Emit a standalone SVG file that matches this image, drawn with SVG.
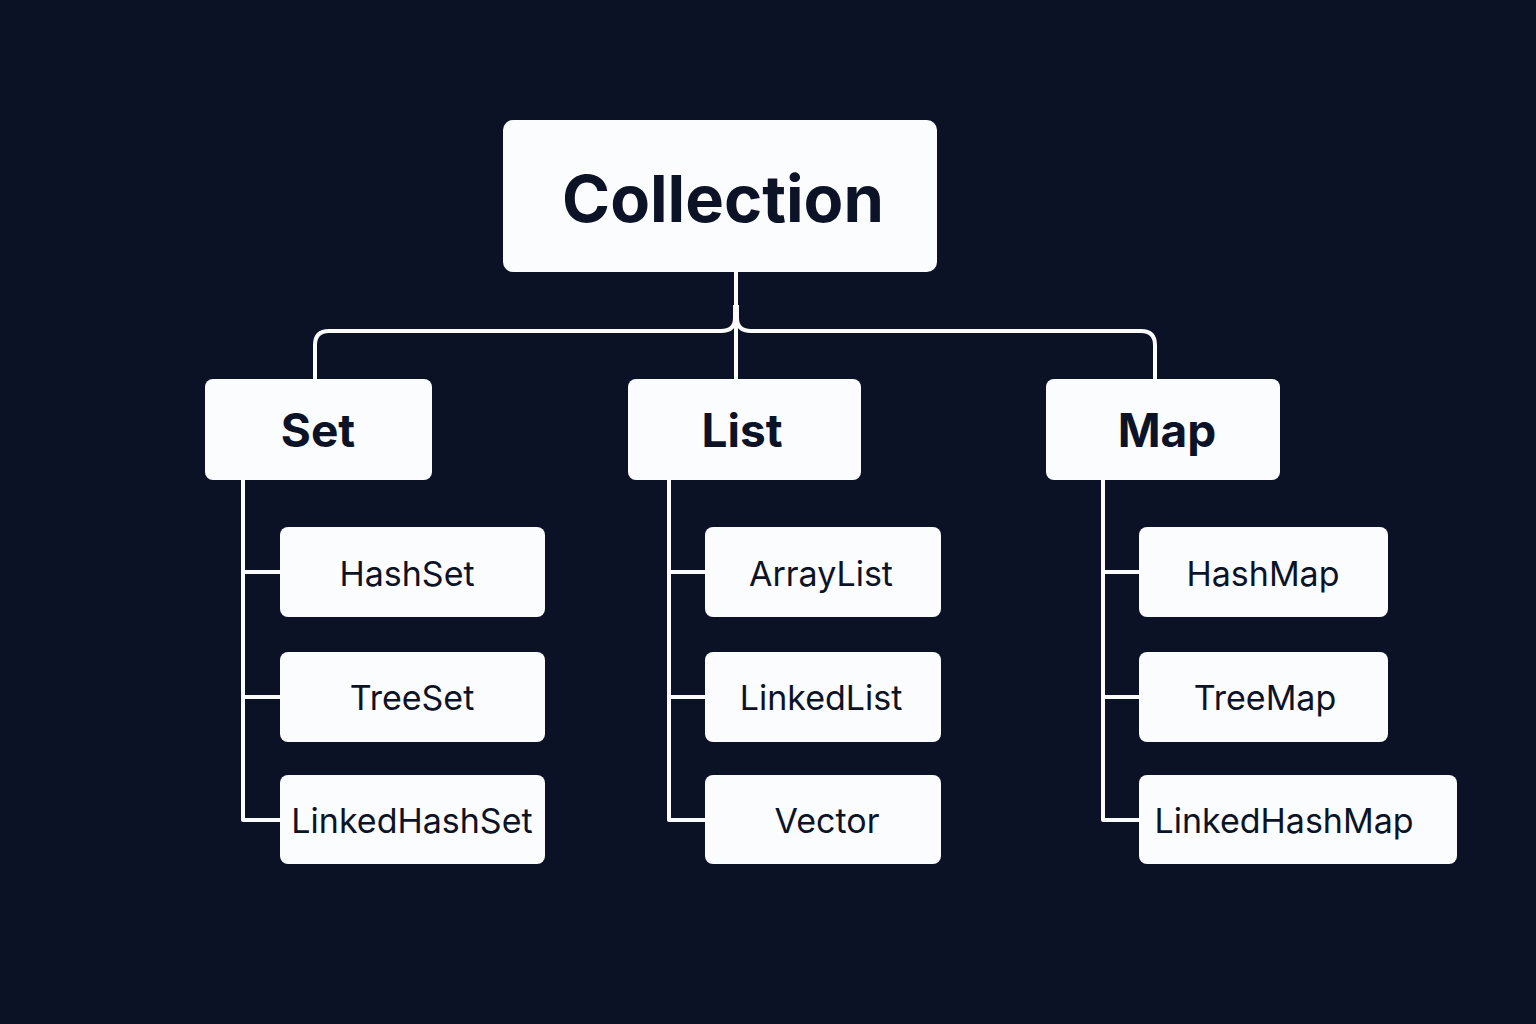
<svg xmlns="http://www.w3.org/2000/svg" width="1536" height="1024" viewBox="0 0 1536 1024">
<style>
.box{fill:#fbfcfe}
.t{fill:#0d1326;font-family:Inter,"Liberation Sans",sans-serif;text-anchor:middle}
.root{font-size:65px;font-weight:700}
.mid{font-size:46px;font-weight:700}
.leaf{font-size:34px;font-weight:400}
.ln{fill:none;stroke:#fbfcfe;stroke-width:4;stroke-linejoin:round}
</style>
<rect width="1536" height="1024" fill="#0c1226"/>
<g id="connectors">
<path class="ln" d="M736 272 V380"/>
<path class="ln" d="M735 305 V318 Q735 331 721 331 H329 Q315 331 315 345 V380"/>
<path class="ln" d="M737 305 V318 Q737 331 751 331 H1141 Q1155 331 1155 345 V380"/>
<path class="ln" d="M243 480 V820 H281 M243 572 H281 M243 697 H281"/>
<path class="ln" d="M669 480 V820 H706 M669 572 H706 M669 697 H706"/>
<path class="ln" d="M1103 480 V820 H1140 M1103 572 H1140 M1103 697 H1140"/>
</g>
<g id="collection"><rect class="box" x="503" y="120" width="434" height="152" rx="10"/><text class="t root" x="723" y="222">Collection</text></g>
<g id="set"><rect class="box" x="205" y="379" width="227" height="101" rx="8"/><text class="t mid" x="318" y="447">Set</text></g>
<g id="list"><rect class="box" x="628" y="379" width="233" height="101" rx="8"/><text class="t mid" x="742" y="447">List</text></g>
<g id="map"><rect class="box" x="1046" y="379" width="234" height="101" rx="8"/><text class="t mid" x="1167" y="447">Map</text></g>
<g id="hashset"><rect class="box" x="280" y="527" width="265" height="90" rx="8"/><text class="t leaf" x="407" y="586">HashSet</text></g>
<g id="treeset"><rect class="box" x="280" y="652" width="265" height="90" rx="8"/><text class="t leaf" x="412" y="710">TreeSet</text></g>
<g id="linkedhashset"><rect class="box" x="280" y="775" width="265" height="89" rx="8"/><text class="t leaf" x="412" y="833">LinkedHashSet</text></g>
<g id="arraylist"><rect class="box" x="705" y="527" width="236" height="90" rx="8"/><text class="t leaf" x="821" y="586">ArrayList</text></g>
<g id="linkedlist"><rect class="box" x="705" y="652" width="236" height="90" rx="8"/><text class="t leaf" x="821" y="710">LinkedList</text></g>
<g id="vector"><rect class="box" x="705" y="775" width="236" height="89" rx="8"/><text class="t leaf" x="827" y="833">Vector</text></g>
<g id="hashmap"><rect class="box" x="1139" y="527" width="249" height="90" rx="8"/><text class="t leaf" x="1263" y="586">HashMap</text></g>
<g id="treemap"><rect class="box" x="1139" y="652" width="249" height="90" rx="8"/><text class="t leaf" x="1265" y="710">TreeMap</text></g>
<g id="linkedhashmap"><rect class="box" x="1139" y="775" width="318" height="89" rx="8"/><text class="t leaf" x="1284" y="833">LinkedHashMap</text></g>
</svg>
